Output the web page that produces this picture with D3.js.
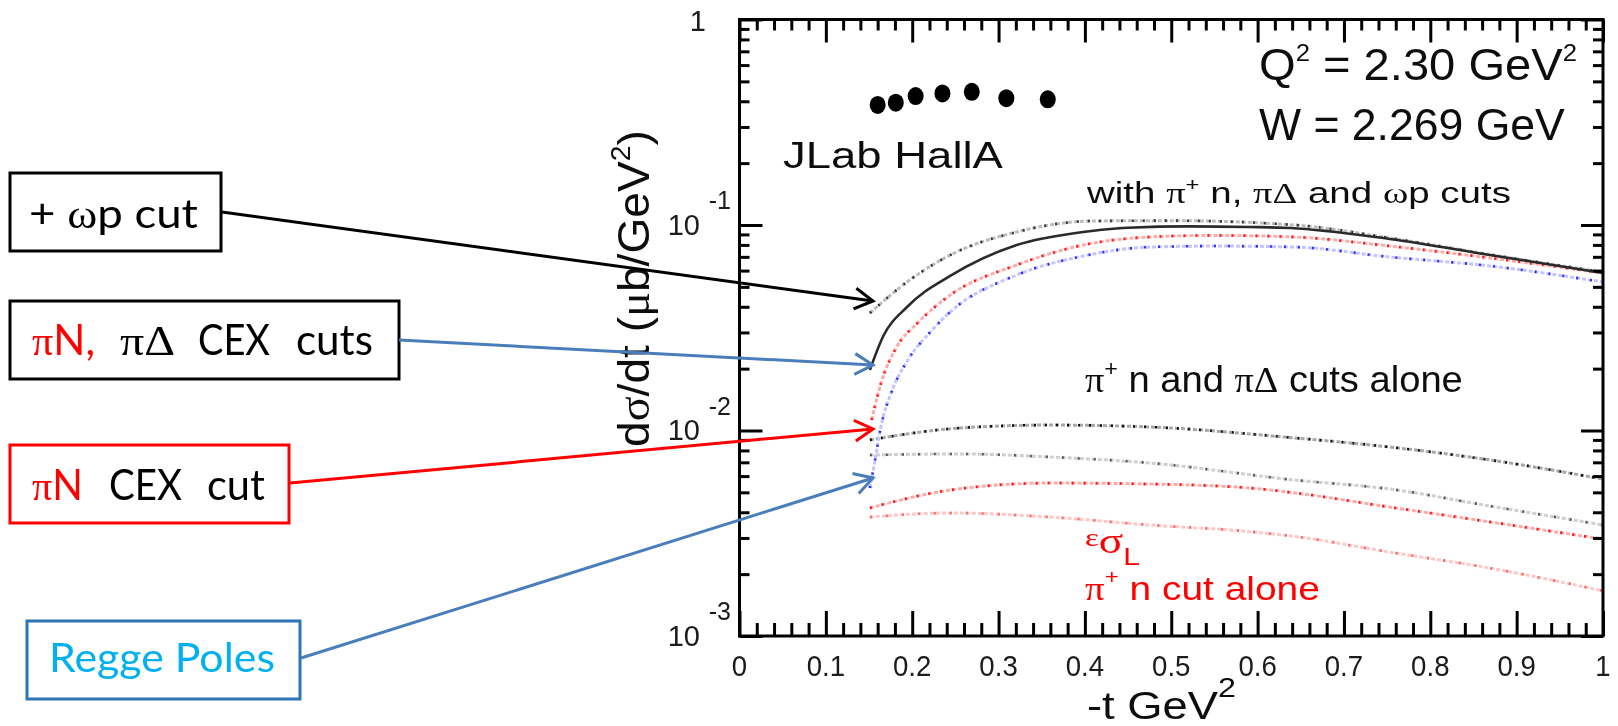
<!DOCTYPE html>
<html>
<head>
<meta charset="utf-8">
<script src="https://cdn.jsdelivr.net/npm/d3@7"></script>
<style>
  html, body { margin: 0; padding: 0; background: #fff; }
  svg { display: block; }
</style>
</head>
<body>
<svg id="chart" width="1618" height="726"></svg>
<script>
// ---- JLab Hall A points: -t (GeV^2) and dsigma/dt (ub/GeV^2)
const dataT     = [0.160, 0.181, 0.204, 0.235, 0.269, 0.309, 0.357];
const dataSigma = [0.384, 0.394, 0.424, 0.437, 0.445, 0.414, 0.409];

// ---- model curves, each as -t grid and dsigma/dt
// total with pi+ n, pi Delta and omega p cuts (dotted)
const tOmegaCut = [0.151, 0.194, 0.244, 0.321, 0.409, 0.50, 0.643, 0.753, 0.869, 1.0];
const sOmegaCut = [0.0373, 0.0528, 0.0714, 0.0925, 0.1046, 0.1050, 0.1000, 0.0865, 0.0718, 0.0590];
// total with pi N, pi Delta CEX cuts (solid)
const tCexCuts = [0.151, 0.166, 0.194, 0.244, 0.321, 0.398, 0.45, 0.52, 0.591, 0.638, 0.753, 0.869, 1.0];
const sCexCuts = [0.0197, 0.0285, 0.0399, 0.0565, 0.0799, 0.0925, 0.0970, 0.0985, 0.0978, 0.0967, 0.0855, 0.0714, 0.0584];
// total with pi N CEX cut (red)
const tCexCut = [0.153, 0.165, 0.182, 0.206, 0.244, 0.321, 0.398, 0.475, 0.55, 0.643, 0.753, 0.869, 1.0];
const sCexCut = [0.01125, 0.0176, 0.0255, 0.0333, 0.0456, 0.0639, 0.0799, 0.0874, 0.0890, 0.0874, 0.0790, 0.0691, 0.0584];
// Regge poles only (blue)
const tRegge = [0.151, 0.157, 0.163, 0.177, 0.195, 0.221, 0.244, 0.321, 0.398, 0.475, 0.55, 0.643, 0.753, 0.869, 1.0];
const sRegge = [0.00525, 0.00719, 0.01006, 0.01574, 0.02203, 0.03015, 0.03773, 0.0571, 0.0706, 0.0781, 0.0790, 0.0781, 0.0699, 0.0632, 0.0528];
// sigma_L curves: pi+ n and pi Delta cuts alone
const tLAlone = [0.151, 0.255, 0.36, 0.475, 0.643, 0.753, 0.869, 1.0];
const sLAloneOmega = [0.0090, 0.01028, 0.01063, 0.0104, 0.0092, 0.00831, 0.00719, 0.0058];
const sLAloneGrey  = [0.0076, 0.00769, 0.00743, 0.00695, 0.00574, 0.00519, 0.00429, 0.00347];
// sigma_L curves: pi+ n cut alone
const tLPiN = [0.151, 0.244, 0.36, 0.475, 0.591, 0.643, 0.753, 0.869, 1.0];
const sLPiN      = [0.0042, 0.00513, 0.00555, 0.00549, 0.00525, 0.00497, 0.00424, 0.00359, 0.00296];
const sLPiNLight = [0.00379, 0.00397, 0.00379, 0.00347, 0.00322, 0.00305, 0.00256, 0.00214, 0.00166];

// ---- axis ticks and labels
const xTickValues = [0, 0.1, 0.2, 0.3, 0.4, 0.5, 0.6, 0.7, 0.8, 0.9, 1];
const xTickLabels = ["0", "0.1", "0.2", "0.3", "0.4", "0.5", "0.6", "0.7", "0.8", "0.9", "1"];
const yTickValues = [1, 0.1, 0.01, 0.001];
const yTickExponents = ["", "-1", "-2", "-3"];

const FONT = "'Liberation Sans', Arial, Helvetica, sans-serif";
const GREEK = "'Liberation Serif', 'DejaVu Serif', serif";
const SLIDE = "Lato, 'Open Sans', 'Noto Sans', sans-serif";

const svg = d3.select('#chart');
const defs = svg.append('defs');
defs.append('filter').attr('id', 'soft')
  .attr('x', '-2%').attr('y', '-2%').attr('width', '104%').attr('height', '104%')
  .append('feGaussianBlur').attr('stdDeviation', 0.55);

const x = d3.scaleLinear().domain([0, 1]).range([739.5, 1603]);
const y = d3.scaleLog().domain([1e-3, 1]).range([636, 19.5]);

const plot = svg.append('g').attr('filter', 'url(#soft)');

// text with optional super/subscript parts, stretched horizontally to a given width
function fitText(parent, x0, y0, width, parts, opts) {
  const t = parent.append('text')
    .attr('font-family', opts.family || FONT)
    .attr('font-size', opts.size)
    .attr('fill', opts.fill || '#111');
  let cur = 0;
  parts.forEach(p => {
    const ts = t.append('tspan').text(p.text);
    if (p.size) ts.attr('font-size', p.size);
    if (p.fill) ts.attr('fill', p.fill);
    if (p.family) ts.attr('font-family', p.family);
    const shift = p.shift || 0;
    const dy = cur - shift;
    if (dy) ts.attr('dy', dy);
    cur = shift;
  });
  const w = t.node().getComputedTextLength();
  const s = width ? width / w : 1;
  t.attr('transform', `translate(${x0},${y0})${opts.rotate ? ' rotate(-90)' : ''} scale(${s},1)`);
  return t;
}

// ---- curves
const line = d3.line().x(d => x(d[0])).y(d => y(d[1])).curve(d3.curveMonotoneX);
const zip = (ts, vs) => ts.map((t, i) => [t, vs[i]]);

const curveSet = [
  { pts: zip(tLPiN, sLPiNLight),     light: '#ffc8c8', dark: '#ff6060', darkDash: '2 14' },
  { pts: zip(tLPiN, sLPiN),          light: '#ffaaaa', dark: '#ff1010', darkDash: '2 10' },
  { pts: zip(tLAlone, sLAloneGrey),  light: '#cfcfcf', dark: '#555',    darkDash: '2 14' },
  { pts: zip(tLAlone, sLAloneOmega), light: '#a8a8a8', dark: '#111',    darkDash: '2 9' },
  { pts: zip(tRegge, sRegge),        light: '#c4c4ff', dark: '#2a2aff', darkDash: '2 12' },
  { pts: zip(tCexCut, sCexCut),      light: '#ffacac', dark: '#ff1515', darkDash: '2 10' },
  { pts: zip(tOmegaCut, sOmegaCut),  light: '#bdbdbd', dark: '#333',    darkDash: '2 9' }
];
curveSet.forEach(c => {
  plot.append('path').attr('d', line(c.pts)).attr('fill', 'none')
    .attr('stroke', c.light).attr('stroke-width', 3).attr('stroke-dasharray', '4 2');
  plot.append('path').attr('d', line(c.pts)).attr('fill', 'none')
    .attr('stroke', c.dark).attr('stroke-width', 2.6).attr('stroke-dasharray', c.darkDash);
});
plot.append('path').attr('d', line(zip(tCexCuts, sCexCuts))).attr('fill', 'none')
  .attr('stroke', '#2b2b2b').attr('stroke-width', 2.6);

// ---- data points
plot.selectAll('ellipse.pt').data(zip(dataT, dataSigma)).enter().append('ellipse')
  .attr('class', 'pt')
  .attr('cx', d => x(d[0])).attr('cy', d => y(d[1]))
  .attr('rx', 8).attr('ry', 9).attr('fill', '#000');

// ---- axes (ticks inward on all four sides)
const xMinor = d3.range(0, 1.0001, 0.02).filter(v => Math.abs(v * 10 - Math.round(v * 10)) > 1e-6);
const yMinor = [];
[1e-3, 1e-2, 1e-1].forEach(d => { for (let k = 2; k <= 9; k++) yMinor.push(k * d); });

function styleAxis(g) {
  g.select('.domain').remove();
  g.selectAll('.tick line').attr('stroke', '#000').attr('stroke-width', 3);
  g.selectAll('.tick text').remove();
}
const axes = [
  [d3.axisBottom(x).tickValues(xTickValues).tickSize(-25), `translate(0,${y.range()[0]})`],
  [d3.axisBottom(x).tickValues(xMinor).tickSize(-13), `translate(0,${y.range()[0]})`],
  [d3.axisTop(x).tickValues(xTickValues).tickSize(-23), `translate(0,${y.range()[1]})`],
  [d3.axisTop(x).tickValues(xMinor).tickSize(-11), `translate(0,${y.range()[1]})`],
  [d3.axisLeft(y).tickValues(yTickValues).tickSize(-23), `translate(${x.range()[0]},0)`],
  [d3.axisLeft(y).tickValues(yMinor).tickSize(-10), `translate(${x.range()[0]},0)`],
  [d3.axisRight(y).tickValues(yTickValues).tickSize(-22), `translate(${x.range()[1]},0)`],
  [d3.axisRight(y).tickValues(yMinor).tickSize(-10), `translate(${x.range()[1]},0)`]
];
axes.forEach(([ax, tr]) => plot.append('g').attr('transform', tr).call(ax).call(styleAxis));

plot.append('rect')
  .attr('x', x.range()[0]).attr('y', y.range()[1])
  .attr('width', x.range()[1] - x.range()[0]).attr('height', y.range()[0] - y.range()[1])
  .attr('fill', 'none').attr('stroke', '#000').attr('stroke-width', 3);

// x tick labels
xTickValues.forEach((v, i) => {
  plot.append('text').text(xTickLabels[i])
    .attr('font-family', FONT).attr('font-size', 30).attr('fill', '#1a1a1a')
    .attr('text-anchor', 'middle')
    .attr('transform', `translate(${x(v)},676) scale(0.92,1)`);
});
// y tick labels: 1, 10^-1, 10^-2, 10^-3
yTickValues.forEach((v, i) => {
  if (!yTickExponents[i]) {
    plot.append('text').text('1').attr('font-family', FONT).attr('font-size', 29)
      .attr('fill', '#1a1a1a').attr('text-anchor', 'end')
      .attr('x', 706).attr('y', y(v) + 11.5);
    return;
  }
  plot.append('text').text('10').attr('font-family', FONT).attr('font-size', 29)
    .attr('fill', '#1a1a1a').attr('text-anchor', 'end')
    .attr('x', 700).attr('y', y(v) + 9.5);
  plot.append('text').text(yTickExponents[i]).attr('font-family', FONT).attr('font-size', 25)
    .attr('fill', '#1a1a1a').attr('text-anchor', 'end')
    .attr('x', 731).attr('y', y(v) - 16);
});

// axis titles
fitText(plot, 1087, 719, 149, [
  { text: '-t GeV' }, { text: '2', size: 27, shift: 22 }
], { size: 38 });
fitText(plot, 649, 447, 317, [
  { text: 'd' }, { text: 'σ', family: GREEK }, { text: '/dt (' }, { text: 'μ', family: GREEK },
  { text: 'b/GeV' }, { text: '2', size: 27, shift: 19 }, { text: ')' }
], { size: 44, rotate: true });

// in-plot labels
fitText(plot, 1259, 80, 318, [
  { text: 'Q' }, { text: '2', size: 24, shift: 19 }, { text: ' = 2.30 GeV' }, { text: '2', size: 24, shift: 19 }
], { size: 44 });
fitText(plot, 1259, 140, 306, [{ text: 'W = 2.269 GeV' }], { size: 44 });
fitText(plot, 783, 168, 220, [{ text: 'JLab HallA' }], { size: 37 });
fitText(plot, 1087, 203, 424, [
  { text: 'with ' }, { text: 'π', family: GREEK }, { text: '+', size: 18, shift: 12 },
  { text: ' n, ' }, { text: 'πΔ', family: GREEK }, { text: ' and ' }, { text: 'ω', family: GREEK },
  { text: 'p cuts' }
], { size: 29 });
fitText(plot, 1085, 392, 378, [
  { text: 'π', family: GREEK }, { text: '+', size: 22, shift: 16 },
  { text: ' n and ' }, { text: 'πΔ', family: GREEK }, { text: ' cuts alone' }
], { size: 36 });
fitText(plot, 1085, 553, 55, [
  { text: 'ε', family: GREEK, size: 26, shift: 7 }, { text: 'σ', family: GREEK },
  { text: 'L', size: 24, shift: -12 }
], { size: 36, fill: '#ff0000' });
fitText(plot, 1085, 600, 235, [
  { text: 'π', family: GREEK }, { text: '+', size: 21, shift: 16 }, { text: ' n cut alone' }
], { size: 34, fill: '#ff0000' });

// ---- annotation boxes and arrows
const notes = svg.append('g');
function box(x0, y0, w, h, color) {
  notes.append('rect').attr('x', x0).attr('y', y0).attr('width', w).attr('height', h)
    .attr('fill', '#fff').attr('stroke', color).attr('stroke-width', 3);
}
function arrow(x1, y1, x2, y2, color) {
  notes.append('line').attr('x1', x1).attr('y1', y1).attr('x2', x2).attr('y2', y2)
    .attr('stroke', color).attr('stroke-width', 3);
  const a = Math.atan2(y2 - y1, x2 - x1), L = 21, h = 0.52;
  const p1 = [x2 - L * Math.cos(a - h), y2 - L * Math.sin(a - h)];
  const p2 = [x2 - L * Math.cos(a + h), y2 - L * Math.sin(a + h)];
  notes.append('path').attr('d', `M${p1[0]},${p1[1]}L${x2},${y2}L${p2[0]},${p2[1]}`)
    .attr('fill', 'none').attr('stroke', color).attr('stroke-width', 3)
    .attr('stroke-linejoin', 'miter');
}

const ARROW_BLUE = '#4a7ebb';
box(10, 173, 211, 78, '#000');
box(10, 301, 389, 78, '#000');
box(10, 445, 279, 78, '#ff0000');
box(27, 621, 273, 78, '#2e75b6');

arrow(222, 212, 873, 301, '#000');
arrow(399, 340, 873, 365, ARROW_BLUE);
arrow(290, 483, 873, 429, '#ff0000');
arrow(301, 658, 873, 478, ARROW_BLUE);

fitText(notes, 29, 228, 169, [
  { text: '+ ' }, { text: 'ω', family: GREEK }, { text: 'p cut' }
], { size: 40, family: SLIDE, fill: '#000' });

fitText(notes, 32, 355, 63, [
  { text: 'π', family: GREEK }, { text: 'N,' }
], { size: 42, family: SLIDE, fill: '#ff0000' });
fitText(notes, 120, 355, 55, [{ text: 'πΔ', family: GREEK }], { size: 42, family: SLIDE, fill: '#000' });
fitText(notes, 198, 355, 72, [{ text: 'CEX' }], { size: 42, family: SLIDE, fill: '#000' });
fitText(notes, 296, 355, 77, [{ text: 'cuts' }], { size: 42, family: SLIDE, fill: '#000' });

fitText(notes, 32, 500, 51, [
  { text: 'π', family: GREEK }, { text: 'N' }
], { size: 42, family: SLIDE, fill: '#ff0000' });
fitText(notes, 109, 500, 73, [{ text: 'CEX' }], { size: 42, family: SLIDE, fill: '#000' });
fitText(notes, 207, 500, 58, [{ text: 'cut' }], { size: 42, family: SLIDE, fill: '#000' });

fitText(notes, 49, 672, 226, [{ text: 'Regge Poles' }], { size: 40, family: SLIDE, fill: '#00b0f0' });
</script>
</body>
</html>
